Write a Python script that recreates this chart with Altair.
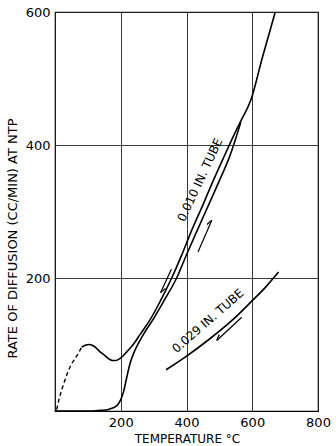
import altair as alt
import pandas as pd
import numpy as np

# ---- data ----
# 0.010 in. tube, branch with hump (dashed start)
a_dash_t = [5, 12, 20, 30, 41, 51, 61, 70, 81]
a_dash_v = [2, 17, 31, 46, 61, 71, 79, 86, 96]
a_t = [81, 92, 104, 120, 137, 150, 162, 175, 185, 195, 205, 220, 238, 260, 289,
       320, 355, 385, 416, 450, 480, 510, 535, 565, 596, 630, 670]
a_v = [96, 99, 100, 97, 89, 84, 79, 76, 76, 78, 82, 90, 100, 116, 137,
       165, 200, 234, 272, 310, 345, 378, 405, 436, 468, 530, 600]
# 0.010 in. tube, branch rising from zero
b_t = [3, 50, 100, 137, 160, 173, 185, 193, 200, 208, 218, 228, 243, 265, 300,
       333, 370, 400, 433, 470, 505, 530, 550, 565]
b_v = [0, 0, 0, 1, 2, 4, 7, 11, 17, 28, 50, 71, 91, 112, 139,
       167, 200, 235, 272, 313, 352, 381, 410, 434]
# 0.029 in. tube
c_t = [338, 396, 472, 540, 596, 640, 680]
c_v = [62, 81, 109, 137, 164, 186, 209]

x_ticks = [200, 400, 600, 800]
y_ticks = [200, 400, 600]

# arrows: tail (T, v) -> head (T, v), barb side
arrow_tail_t = [435, 354, 568]
arrow_tail_v = [239, 213, 141]
arrow_head_t = [477, 321, 492]
arrow_head_v = [287, 178, 106]
arrow_side = [25, 25, -25]

labels = ["0.010 IN. TUBE", "0.029 IN. TUBE"]
label_t = [452, 473]
label_v = [345, 131]
label_angle = [295, 319]

W, H = 263, 399
XMAX, YMAX = 800, 600
sx, sy = W / XMAX, H / YMAX

def df_line(t, v):
    return pd.DataFrame({"t": t, "v": v, "o": range(len(t))})

xs = alt.Scale(domain=[0, XMAX], nice=False, zero=True)
ys = alt.Scale(domain=[0, YMAX], nice=False, zero=True)

x_axis = alt.Axis(values=x_ticks, grid=True, title="TEMPERATURE °C",
                  titleFontSize=12, titleFontWeight="normal", titleFont="DejaVu Sans",
                  titleX=132, titleY=27, titleAlign="center", titleBaseline="middle",
                  labelPadding=5, labelBaseline="top", labelFlush=False, labelOverlap=False)
y_axis = alt.Axis(values=y_ticks, grid=True, title="RATE OF DIFFUSION (CC/MIN) AT NTP",
                  titleFontSize=13, titleFontWeight="normal", titleFont="DejaVu Sans",
                  titleAngle=270, titleX=-43, titleY=226, titleAlign="center",
                  titleBaseline="middle", labelPadding=5, labelFlush=False,
                  labelOverlap=False)

def line_layer(t, v, dash=False, axes=False, width=1.6):
    kw = dict(color="black", strokeWidth=width, interpolate="monotone")
    if dash:
        kw["strokeDash"] = [4, 3]
    m = alt.Chart(df_line(t, v)).mark_line(**kw)
    if axes:
        return m.encode(x=alt.X("t:Q", scale=xs, axis=x_axis),
                        y=alt.Y("v:Q", scale=ys, axis=y_axis),
                        order="o:Q")
    return m.encode(x=alt.X("t:Q", scale=xs), y=alt.Y("v:Q", scale=ys), order="o:Q")

# arrow shafts + single barbs
rows = []
for tt, tv, ht, hv, side in zip(arrow_tail_t, arrow_tail_v, arrow_head_t, arrow_head_v, arrow_side):
    rows.append({"t": tt, "v": tv, "t2": ht, "v2": hv})
    dx, dy = (tt - ht) * sx, -(tv - hv) * sy
    n = np.hypot(dx, dy)
    dx, dy = dx / n, dy / n
    a = np.radians(side)
    bx = dx * np.cos(a) - dy * np.sin(a)
    by = dx * np.sin(a) + dy * np.cos(a)
    L = 6.5
    rows.append({"t": ht, "v": hv, "t2": ht + bx * L / sx, "v2": hv - by * L / sy})
arrows = alt.Chart(pd.DataFrame(rows)).mark_rule(color="black", strokeWidth=1.2).encode(
    x=alt.X("t:Q", scale=xs), y=alt.Y("v:Q", scale=ys), x2="t2:Q", y2="v2:Q")

texts = []
for s, t, v, ang in zip(labels, label_t, label_v, label_angle):
    texts.append(alt.Chart(pd.DataFrame({"t": [t], "v": [v], "s": [s]})).mark_text(
        font="DejaVu Sans", fontSize=12, angle=ang, align="center",
        baseline="alphabetic", color="black").encode(
        x=alt.X("t:Q", scale=xs), y=alt.Y("v:Q", scale=ys), text="s:N"))

chart = alt.layer(
    line_layer(a_dash_t, a_dash_v, dash=True, axes=True, width=1.4),
    line_layer(a_t, a_v),
    line_layer(b_t, b_v),
    line_layer(c_t, c_v, width=1.7),
    arrows,
    *texts,
).properties(
    width=W, height=H,
    autosize=alt.AutoSizeParams(type="none"),
    padding={"left": 55, "top": 12, "right": 18, "bottom": 35},
    background="white",
).configure_view(
    stroke="black", strokeWidth=1.2
).configure_axis(
    domain=False, ticks=False, tickSize=0,
    gridColor="#222222", gridWidth=0.9, gridOpacity=1,
    labelFont="DejaVu Sans", labelFontSize=13, labelColor="black",
    titleColor="black",
)

chart.save("out.html", embed_options={"renderer": "svg", "actions": False})
